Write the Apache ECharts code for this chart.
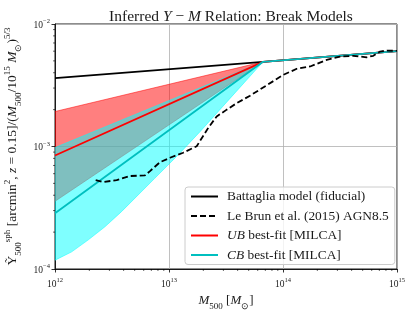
<!DOCTYPE html>
<html><head><meta charset="utf-8">
<script src="https://cdn.jsdelivr.net/npm/echarts@6/dist/echarts.min.js"></script>
<style>html,body{margin:0;padding:0;background:#fff}#c{width:415px;height:311px}</style>
</head><body><div id="c"></div>
<script>
// ---- data ----
const lineMass = [1e12, 6.68e13, 1e15];
const battaglia = [3.62e-3, 4.91e-3, 6.0e-3];
const ubBest = [8.45e-4, 4.91e-3, 6.0e-3];
const ubUpper = [1.93e-3, 4.91e-3, 6.0e-3];
const ubLower = [3.57e-4, 4.91e-3, 6.0e-3];
const cbBest = [2.85e-4, 4.91e-3, 6.0e-3];
const cbUpper = [9.8e-4, 4.91e-3, 6.0e-3];
const cbLowerMass = [1e12, 1.40e12, 1.96e12, 2.74e12, 3.83e12, 5.36e12, 7.50e12, 1.05e13, 1.28e13, 1.87e13, 3.43e13, 6.68e13, 1e15];
const cbLower = [1.18e-4, 1.38e-4, 1.73e-4, 2.21e-4, 2.94e-4, 4.02e-4, 5.50e-4, 7.52e-4, 9.08e-4, 1.32e-3, 2.47e-3, 4.91e-3, 6.0e-3];
const leBrunMass = [2.275e12, 2.655e12, 3.475e12, 4.55e12, 6.15e12, 6.81e12, 8.34e12, 1.02e13, 1.33e13, 1.75e13,
  2.21e13, 2.62e13, 3.21e13, 3.93e13, 5.14e13, 7.19e13, 1.01e14, 1.32e14, 1.73e14, 2.42e14, 3.16e14, 4.14e14,
  5.42e14, 6.19e14, 7.10e14, 8.17e14, 1e15];
const leBrun = [5.32e-4, 5.13e-4, 5.32e-4, 5.74e-4, 5.81e-4, 6.30e-4, 7.45e-4, 8.09e-4, 8.89e-4, 1.005e-3,
  1.42e-3, 1.76e-3, 2.0e-3, 2.26e-3, 2.60e-3, 3.16e-3, 3.85e-3, 4.31e-3, 4.50e-3, 5.09e-3, 5.42e-3, 5.50e-3,
  5.35e-3, 5.50e-3, 5.96e-3, 6.07e-3, 6.03e-3];
const xMinorTicks = [];
[12, 13, 14].forEach(e => { for (let k = 2; k <= 9; k++) xMinorTicks.push(k * Math.pow(10, e)); });
const yMinorTicks = [];
[-4, -3].forEach(e => { for (let k = 2; k <= 9; k++) yMinorTicks.push(k * Math.pow(10, e)); });
const seriesNames = ['Battaglia model (fiducial)', 'Le Brun et al. (2015) AGN8.5', 'UB best-fit [MILCA]', 'CB best-fit [MILCA]'];

// ---- chart ----
const F = 'Liberation Serif';
const TXT = '#1a1a1a';
const zip = (a, b) => a.map((v, i) => [v, b[i]]);

function band(upM, upV, loM, loV, color, z) {
  return {
    type: 'custom', z: z, clip: true, silent: true,
    data: [[upM[0], upV[0]]],
    renderItem(params, api) {
      const pts = [];
      for (let i = 0; i < upM.length; i++) pts.push(api.coord([upM[i], upV[i]]));
      for (let i = loM.length - 1; i >= 0; i--) pts.push(api.coord([loM[i], loV[i]]));
      return { type: 'polygon', shape: { points: pts }, style: { fill: color, stroke: color, lineWidth: 1 } };
    }
  };
}
function minorTicks(vals, axis) {
  return {
    type: 'custom', z: 10, clip: false, silent: true,
    data: vals.map(v => axis === 'x' ? [v, 1e-4] : [1e12, v]),
    renderItem(params, api) {
      const p = api.coord([api.value(0), api.value(1)]);
      const shape = axis === 'x' ? { x1: p[0], y1: p[1], x2: p[0], y2: p[1] + 2 } : { x1: p[0], y1: p[1], x2: p[0] - 2, y2: p[1] };
      return { type: 'line', shape: shape, style: { stroke: '#000', lineWidth: 0.6 } };
    }
  };
}
function lineS(name, mass, vals, color, z, dashed) {
  return {
    type: 'line', name: name, data: zip(mass, vals), symbol: 'none', showSymbol: false, z: z,
    lineStyle: { color: color, width: 1.8, type: dashed ? [6, 3] : 'solid' },
    itemStyle: { color: color }
  };
}
const tickRich = {
  b: { fontFamily: F, fontSize: 9.5, color: TXT, verticalAlign: 'bottom', lineHeight: 12 },
  s: { fontFamily: F, fontSize: 6.5, color: TXT, verticalAlign: 'top', lineHeight: 7 }
};
function expLabel(v) {
  const e = Math.round(Math.log10(v));
  return '{b|10}{s|' + (e < 0 ? '\u2212' + (-e) : e) + '}';
}
const nameRich = {
  r: { fontFamily: F, fontSize: 13, color: TXT, lineHeight: 20, verticalAlign: 'middle' },
  i: { fontFamily: F, fontSize: 13, fontStyle: 'italic', color: TXT, lineHeight: 20, verticalAlign: 'middle' },
  sub: { fontFamily: F, fontSize: 9, color: TXT, lineHeight: 9, verticalAlign: 'bottom' },
  sup: { fontFamily: F, fontSize: 9, color: TXT, lineHeight: 9, verticalAlign: 'top' }
};
const yRich = {
  r: { fontFamily: F, fontSize: 13.5, color: TXT, lineHeight: 20, verticalAlign: 'middle' },
  i: { fontFamily: F, fontSize: 13.5, fontStyle: 'italic', color: TXT, lineHeight: 20, verticalAlign: 'middle' },
  sub: { fontFamily: F, fontSize: 9, color: TXT, lineHeight: 9, verticalAlign: 'bottom' },
  sup: { fontFamily: F, fontSize: 9, color: TXT, lineHeight: 9, verticalAlign: 'top' }
};

const chart = echarts.init(document.getElementById('c'), null, { renderer: 'canvas' });
chart.setOption({
  animation: false,
  backgroundColor: '#fff',
  title: {
    text: '{r|Inferred }{i|Y}{r| \u2212 }{i|M}{r| Relation: Break Models}',
    left: 226, top: 4, textAlign: 'center',
    textStyle: { fontWeight: 'normal', rich: {
      r: { fontFamily: F, fontSize: 15.5, fontWeight: 'normal', color: TXT },
      i: { fontFamily: F, fontSize: 15.5, fontWeight: 'normal', fontStyle: 'italic', color: TXT }
    } }
  },
  grid: { left: 55, right: 18, top: 24, bottom: 42, outerBoundsMode: 'none', containLabel: false,
    show: true, borderColor: '#1a1a1a', borderWidth: 1, backgroundColor: 'transparent' },
  xAxis: {
    type: 'log', logBase: 10, min: 1e12, max: 1e15,
    name: '{i|M}{sub|500}{r| [}{i|M}{sub|\u2299}{r|]}',
    nameLocation: 'middle', nameGap: 22,
    nameTextStyle: { rich: nameRich },
    axisLine: { show: true, onZero: false, lineStyle: { color: '#1a1a1a', width: 1 } },
    axisTick: { show: true, length: 3.5, lineStyle: { color: '#000', width: 0.8 } },
    axisLabel: { formatter: expLabel, rich: tickRich, margin: 8 },
    splitLine: { show: true, lineStyle: { color: '#b0b0b0', width: 0.8 } }
  },
  yAxis: {
    type: 'log', logBase: 10, min: 1e-4, max: 1e-2,
    name: '{r|\u1EF8}{sub|500}{sup|sph}{r| [arcmin}{sup|2}{r|, }{i|z}{r| = 0.15]/(}{i|M}{sub|500}{r|/10}{sup|15}{i| M}{sub|\u2299}{r|)}{sup|5/3}',
    nameLocation: 'middle', nameGap: 28,
    nameTextStyle: { rich: yRich },
    axisLine: { show: true, lineStyle: { color: '#1a1a1a', width: 1 } },
    axisTick: { show: true, length: 3.5, lineStyle: { color: '#000', width: 0.8 } },
    axisLabel: { formatter: expLabel, rich: tickRich, margin: 5 },
    splitLine: { show: true, lineStyle: { color: '#b0b0b0', width: 0.8 } }
  },
  legend: {
    data: seriesNames,
    orient: 'vertical', left: 185, top: 187,
    itemWidth: 27, itemHeight: 12, itemGap: 6.5,
    padding: [3, 6, 3, 5],
    itemStyle: { opacity: 0 },
    backgroundColor: 'rgba(255,255,255,0.8)', borderColor: '#cccccc', borderWidth: 1, borderRadius: 3,
    textStyle: { fontFamily: F, fontSize: 13.4, color: TXT, padding: [0, 0, 0, 4],
      rich: { r: { fontFamily: F, fontSize: 13.4, color: TXT }, i: { fontFamily: F, fontSize: 13.4, fontStyle: 'italic', color: TXT } } },
    formatter(name) {
      if (name.indexOf('UB ') === 0) return '{i|UB}{r| best-fit [MILCA]}';
      if (name.indexOf('CB ') === 0) return '{i|CB}{r| best-fit [MILCA]}';
      return '{r|' + name + '}';
    }
  },
  series: [
    band(lineMass, ubUpper, lineMass, ubLower, 'rgba(255,0,0,0.5)', 2),
    band(lineMass, cbUpper, cbLowerMass, cbLower, 'rgba(0,255,255,0.5)', 3),
    lineS(seriesNames[0], lineMass, battaglia, '#000000', 4, false),
    lineS(seriesNames[2], lineMass, ubBest, '#ff0000', 5, false),
    lineS(seriesNames[3], lineMass, cbBest, '#00bfbf', 6, false),
    lineS(seriesNames[1], leBrunMass, leBrun, '#000000', 7, true),
    minorTicks(xMinorTicks, 'x'),
    minorTicks(yMinorTicks, 'y')
  ]
});
</script></body></html>
